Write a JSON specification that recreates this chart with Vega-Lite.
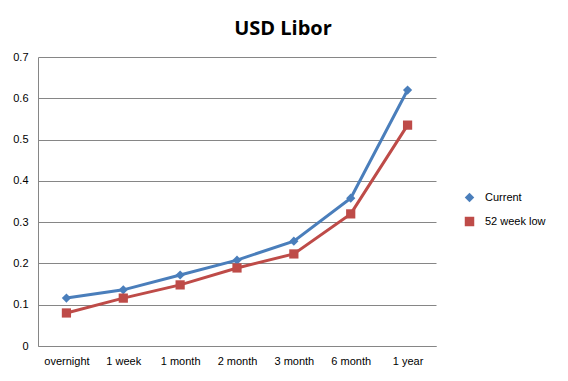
{
  "$schema": "https://vega.github.io/schema/vega-lite/v6.json",
  "autosize": "none",
  "width": 398,
  "height": 289,
  "padding": {"left": 38, "top": 57, "right": 132, "bottom": 35},
  "background": "white",
  "title": {"text": "USD Libor", "fontSize": 20, "font": "Open Sans", "fontWeight": "bold", "color": "#000000", "anchor": "middle", "dx": 46, "offset": 12},
  "data": {"values": [
    {"term": "overnight", "series": "Current", "rate": 0.116},
    {"term": "1 week", "series": "Current", "rate": 0.136},
    {"term": "1 month", "series": "Current", "rate": 0.172},
    {"term": "2 month", "series": "Current", "rate": 0.208},
    {"term": "3 month", "series": "Current", "rate": 0.254},
    {"term": "6 month", "series": "Current", "rate": 0.358},
    {"term": "1 year", "series": "Current", "rate": 0.62},
    {"term": "overnight", "series": "52 week low", "rate": 0.08},
    {"term": "1 week", "series": "52 week low", "rate": 0.116},
    {"term": "1 month", "series": "52 week low", "rate": 0.148},
    {"term": "2 month", "series": "52 week low", "rate": 0.189},
    {"term": "3 month", "series": "52 week low", "rate": 0.223},
    {"term": "6 month", "series": "52 week low", "rate": 0.32},
    {"term": "1 year", "series": "52 week low", "rate": 0.535}
  ]},
  "encoding": {
    "x": {"field": "term", "type": "nominal", "sort": null,
      "scale": {"type": "point", "padding": 0.5},
      "axis": {"title": null, "labelAngle": 0, "labelFont": "Liberation Sans", "labelFontSize": 11, "labelColor": "#000000", "labelPadding": 9, "ticks": false, "domainColor": "#868686", "grid": false}},
    "y": {"field": "rate", "type": "quantitative",
      "scale": {"domain": [0, 0.7], "nice": false},
      "axis": {"title": null, "values": [0, 0.1, 0.2, 0.3, 0.4, 0.5, 0.6, 0.7], "labelFont": "Liberation Sans", "labelFontSize": 11, "labelColor": "#000000", "labelPadding": 10, "ticks": false, "domainColor": "#868686", "gridColor": "#868686", "gridOpacity": 1, "labelExpr": "datum.value == 0 ? '0' : format(datum.value, '.1f')"}},
    "color": {"field": "series", "type": "nominal",
      "scale": {"domain": ["Current", "52 week low"], "range": ["#4A7EBB", "#BE4B48"]},
      "legend": {"title": null, "orient": "none", "legendX": 426, "legendY": 135, "labelFont": "Liberation Sans", "labelFontSize": 11, "labelColor": "#000000", "labelOffset": 10, "rowPadding": 12, "symbolSize": 90, "symbolStrokeWidth": 0}}
  },
  "layer": [
    {"mark": {"type": "line", "strokeWidth": 3}, "encoding": {"detail": {"field": "series"}}},
    {"mark": {"type": "point", "filled": true, "opacity": 1, "size": 85},
      "encoding": {"shape": {"field": "series", "type": "nominal", "scale": {"domain": ["Current", "52 week low"], "range": ["diamond", "square"]}, "legend": null}}}
  ],
  "config": {"view": {"stroke": null}}
}
